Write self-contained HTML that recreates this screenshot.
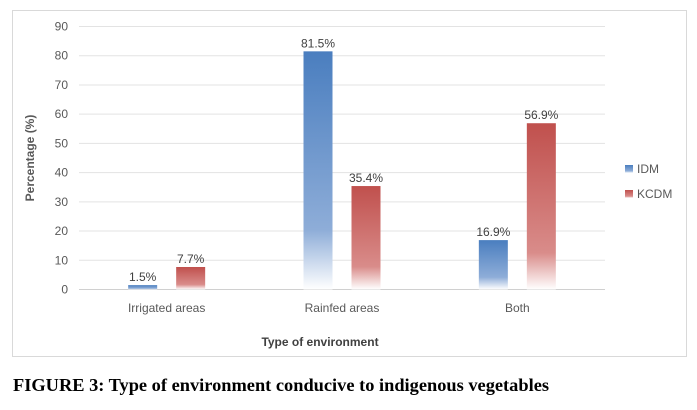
<!DOCTYPE html>
<html><head><meta charset="utf-8"><style>
body{margin:0;background:#fff;width:697px;height:405px;overflow:hidden;font-family:"Liberation Sans",sans-serif}
</style></head><body>
<svg id="chart" width="697" height="405" xmlns="http://www.w3.org/2000/svg">
<defs>
<linearGradient id="gBlue" x1="0" y1="0" x2="0" y2="1"><stop offset="0" stop-color="#4a7ebf"/><stop offset="0.75" stop-color="#8eadd8"/><stop offset="1" stop-color="#ffffff"/></linearGradient>
<linearGradient id="gRed" x1="0" y1="0" x2="0" y2="1"><stop offset="0" stop-color="#c0504d"/><stop offset="0.78" stop-color="#d98c8a"/><stop offset="1" stop-color="#ffffff"/></linearGradient>
</defs>
<rect x="12.5" y="10.5" width="674" height="346" fill="#fff" stroke="#d9d9d9"/>
<g id="grid"></g><g id="bars"></g>
<text transform="translate(34,158) rotate(-90)" text-anchor="middle" font-size="12" font-weight="bold" fill="#595959">Percentage (%)</text>
<text x="320" y="346" text-anchor="middle" font-size="12" font-weight="bold" fill="#404040">Type of environment</text>
<rect x="625" y="165" width="8" height="8" fill="url(#gBlue)"/>
<text x="637" y="173" font-size="12" fill="#595959">IDM</text>
<rect x="625" y="190" width="8" height="8" fill="url(#gRed)"/>
<text x="637" y="198" font-size="12" fill="#595959">KCDM</text>
<text x="13" y="391" font-family="Liberation Serif,serif" font-size="18" font-weight="bold" fill="#000" textLength="536" lengthAdjust="spacingAndGlyphs">FIGURE 3: Type of environment conducive to indigenous vegetables</text>
</svg>
<script>
const categories=["Irrigated areas","Rainfed areas","Both"];
const idm=[1.5,81.5,16.9];
const kcdm=[7.7,35.4,56.9];
const yTicks=[0,10,20,30,40,50,60,70,80,90];
const NS="http://www.w3.org/2000/svg";
const L=79,R=605,Y0=289.5,YT=26.5,MAX=90;
const y=v=>Y0-(Y0-YT)*v/MAX;
const band=(R-L)/categories.length;
const cx=i=>L+band*(i+0.5);
function mk(t,a,p){const e=document.createElementNS(NS,t);for(const k in a)e.setAttribute(k,a[k]);p.appendChild(e);return e;}
const grid=document.getElementById('grid'),bars=document.getElementById('bars');
yTicks.forEach(t=>{
 const l=mk('line',{x1:L,x2:R,y1:y(t),y2:y(t),stroke:t===0?'#d0d0d0':'#e3e3e3','stroke-width':1},grid);
 
 
 const tx=mk('text',{x:68,y:y(t)+4,'text-anchor':'end','font-size':12,fill:'#595959'},grid);
 tx.textContent=t;
 
 
});
categories.forEach((c,i)=>{
 const tx=mk('text',{x:cx(i),y:312,'text-anchor':'middle','font-size':12,fill:'#595959'},grid);
 tx.textContent=c;
 
 
 [[idm,-38.5,'url(#gBlue)','idm'],[kcdm,9.5,'url(#gRed)','kcdm']].forEach(([s,off,f,n])=>{
  const v=s[i];
  const r=mk('rect',{x:cx(i)+off,y:y(v),width:29,height:Y0-y(v),fill:f},bars);
  
  
  const lb=mk('text',{x:cx(i)+off+14.5,y:y(v)-4,'text-anchor':'middle','font-size':12,fill:'#404040'},bars);
  lb.textContent=v.toFixed(1)+'%';
  
  
 });
});
</script>
</body></html>
